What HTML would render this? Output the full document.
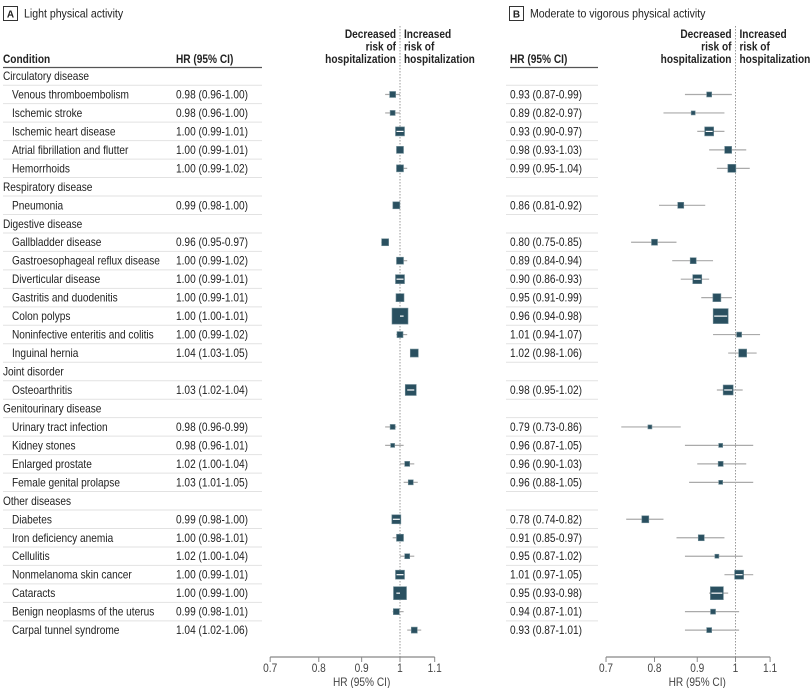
<!DOCTYPE html>
<html><head><meta charset="utf-8"><style>
html,body{margin:0;padding:0;background:#fff;}
svg{display:block;font-family:"Liberation Sans",sans-serif;}
text{fill:#222;font-size:11.5px;}
.b{font-weight:bold;}
</style></head><body>
<svg id="chart" width="810" height="688" viewBox="0 0 810 688">
<g>
<rect x="3.5" y="6.5" width="14" height="14" fill="none" stroke="#333"/>
<text x="10.5" y="17.5" text-anchor="middle" class="b" style="font-size:10px">A</text>
<text transform="translate(24,17.5) scale(0.88,1)" style="font-size:12px">Light physical activity</text>
</g>
<g>
<rect x="509.5" y="6.5" width="14" height="14" fill="none" stroke="#333"/>
<text x="516.5" y="17.5" text-anchor="middle" class="b" style="font-size:10px">B</text>
<text transform="translate(530,17.5) scale(0.88,1)" style="font-size:12px">Moderate to vigorous physical activity</text>
</g>
<text transform="translate(3,63) scale(0.88,1)" class="b">Condition</text>
<text transform="translate(176,63) scale(0.88,1)" class="b">HR (95% CI)</text>
<text transform="translate(510,63) scale(0.88,1)" class="b">HR (95% CI)</text>
<line x1="3" y1="67.5" x2="262" y2="67.5" stroke="#555" stroke-width="1.2"/>
<line x1="510" y1="67.5" x2="598" y2="67.5" stroke="#555" stroke-width="1.2"/>
<g id="rows"></g>
<g id="plots"></g>
</svg>
<script>
const labels=["Circulatory disease","Venous thromboembolism","Ischemic stroke","Ischemic heart disease","Atrial fibrillation and flutter","Hemorrhoids","Respiratory disease","Pneumonia","Digestive disease","Gallbladder disease","Gastroesophageal reflux disease","Diverticular disease","Gastritis and duodenitis","Colon polyps","Noninfective enteritis and colitis","Inguinal hernia","Joint disorder","Osteoarthritis","Genitourinary disease","Urinary tract infection","Kidney stones","Enlarged prostate","Female genital prolapse","Other diseases","Diabetes","Iron deficiency anemia","Cellulitis","Nonmelanoma skin cancer","Cataracts","Benign neoplasms of the uterus","Carpal tunnel syndrome"];
const isCategory=[1,0,0,0,0,0,1,0,1,0,0,0,0,0,0,0,1,0,1,0,0,0,0,1,0,0,0,0,0,0,0];
// Panel A (null for category rows)
const hrA=[null,0.98,0.98,1.00,1.00,1.00,null,0.99,null,0.96,1.00,1.00,1.00,1.00,1.00,1.04,null,1.03,null,0.98,0.98,1.02,1.03,null,0.99,1.00,1.02,1.00,1.00,0.99,1.04];
const loA=[null,0.96,0.96,0.99,0.99,0.99,null,0.98,null,0.95,0.99,0.99,0.99,1.00,0.99,1.03,null,1.02,null,0.96,0.96,1.00,1.01,null,0.98,0.98,1.00,0.99,0.99,0.98,1.02];
const hiA=[null,1.00,1.00,1.01,1.01,1.02,null,1.00,null,0.97,1.02,1.01,1.01,1.01,1.02,1.05,null,1.04,null,0.99,1.01,1.04,1.05,null,1.00,1.01,1.04,1.01,1.00,1.01,1.06];
const wA=[0,6,5,9,7,7,0,7,0,7,7,9,8,16,6,8,0,11,0,5,4,5,5,0,9,7,5,9,13,6,6];
// Panel B
const hrB=[null,0.93,0.89,0.93,0.98,0.99,null,0.86,null,0.80,0.89,0.90,0.95,0.96,1.01,1.02,null,0.98,null,0.79,0.96,0.96,0.96,null,0.78,0.91,0.95,1.01,0.95,0.94,0.93];
const loB=[null,0.87,0.82,0.90,0.93,0.95,null,0.81,null,0.75,0.84,0.86,0.91,0.94,0.94,0.98,null,0.95,null,0.73,0.87,0.90,0.88,null,0.74,0.85,0.87,0.97,0.93,0.87,0.87];
const hiB=[null,0.99,0.97,0.97,1.03,1.04,null,0.92,null,0.85,0.94,0.93,0.99,0.98,1.07,1.06,null,1.02,null,0.86,1.05,1.03,1.05,null,0.82,0.97,1.02,1.05,0.98,1.01,1.01];
const wB=[0,5,4,9,7,8,0,6,0,6,6,9,8,15,5,8,0,10,0,4,4,5,4,0,7,6,4,9,13,5,5];
const ticks=[0.7,0.8,0.9,1,1.1];
const tickLabels=["0.7","0.8","0.9","1","1.1"];

const NS="http://www.w3.org/2000/svg";
function mk(tag,attrs,parent,txt){const e=document.createElementNS(NS,tag);for(const k in attrs)e.setAttribute(k,attrs[k]);if(txt!==undefined)e.textContent=txt;parent.appendChild(e);return e;}
function tx(x,y,s,parent,extra){const a=Object.assign({transform:'translate('+x+','+y+') scale(0.88,1)'},extra||{});return mk('text',a,parent,s);}
const rowY=i=>76+i*18.47;
const f=v=>v.toFixed(2);
function xA(v){return 400+Math.log(v)*364;}
function xB(v){return 735.5+Math.log(v)*363;}
const rows=document.getElementById('rows'),plots=document.getElementById('plots');
labels.forEach((lab,i)=>{
  const y=rowY(i);
  if(i<labels.length-1){
    const l1=mk('line',{x1:3,x2:262,y1:y+9.2,y2:y+9.2,stroke:'#e2e2e2','stroke-width':1},rows);
    
    
    const l2=mk('line',{x1:506,x2:598,y1:y+9.2,y2:y+9.2,stroke:'#e2e2e2','stroke-width':1},rows);
    
    
  }
  const t=tx(isCategory[i]?3:12,y+4,lab,rows);
  
  
  if(!isCategory[i]){
    const ta=tx(176,y+4,f(hrA[i])+' ('+f(loA[i])+'-'+f(hiA[i])+')',rows);
    
    
    const tb=tx(510,y+4,f(hrB[i])+' ('+f(loB[i])+'-'+f(hiB[i])+')',rows);
    
    
  }
});
function panel(sx,hr,lo,hi,w,name){
  const x1=sx(0.7),x2=sx(1.1),x0=sx(1);
  const ref=mk('line',{x1:x0,x2:x0,y1:26,y2:657,stroke:'#999','stroke-width':1,'stroke-dasharray':'1.5,1.5'},plots);
  
  
  const ax=mk('line',{x1:x1,x2:x2,y1:657,y2:657,stroke:'#888','stroke-width':1.2},plots);
  
  
  ticks.forEach((v,k)=>{
    const t=sx(v);
    mk('line',{x1:t,x2:t,y1:657,y2:662,stroke:'#888','stroke-width':1},plots);
    const tl=tx(t,672,tickLabels[k],plots,{'text-anchor':'middle',style:'fill:#444'});
    
    
  });
  const at=tx(sx(0.9),686,'HR (95% CI)',plots,{'text-anchor':'middle',style:'fill:#444'});
  
  
  ['Decreased','risk of','hospitalization'].forEach((s,k)=>{
    tx(x0-4,38+k*12.5,s,plots,{'text-anchor':'end',class:'b'});
  });
  ['Increased','risk of','hospitalization'].forEach((s,k)=>{
    tx(x0+4,38+k*12.5,s,plots,{class:'b'});
  });
  hr.forEach((v,i)=>{
    if(v===null)return;
    const y=rowY(i);
    const ci=mk('line',{x1:sx(lo[i]),x2:sx(hi[i]),y1:y,y2:y,stroke:'#aaa','stroke-width':1.2},plots);
    
    
    const cx=sx(v),s=w[i];
    const r=mk('rect',{x:cx-s/2,y:y-s/2,width:s,height:s,fill:'#2a5060',stroke:'#6f8c96','stroke-width':0.6},plots);
    
    
    const a=Math.max(sx(lo[i]),cx-s/2+1),b=Math.min(sx(hi[i]),cx+s/2-1);
    if(b>a && s>=9) mk('line',{x1:a,x2:b,y1:y,y2:y,stroke:'#fff','stroke-width':1.2},plots);
  });
}
panel(xA,hrA,loA,hiA,wA,'panel-a');
panel(xB,hrB,loB,hiB,wB,'panel-b');
</script>
</body></html>
